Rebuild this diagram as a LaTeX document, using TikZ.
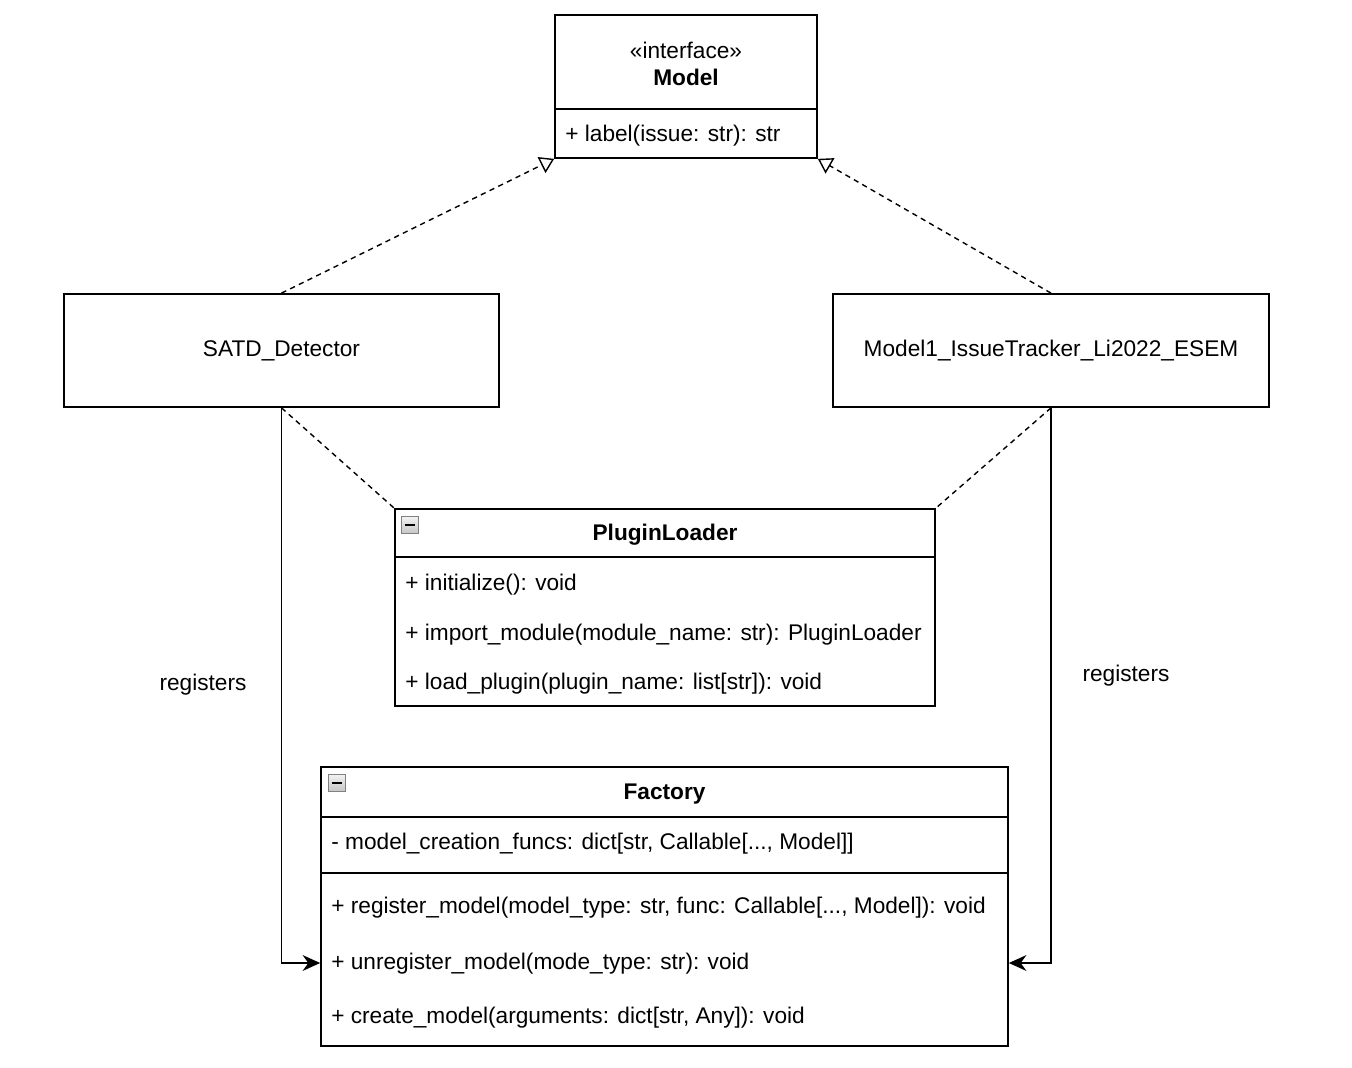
\documentclass[tikz,border=0pt]{standalone}
\usepackage{fontspec}
\setmainfont{Liberation Sans}
\usetikzlibrary{arrows.meta,positioning,calc}

\begin{document}
\begin{tikzpicture}[
        x=0.02cm, y=-0.02cm,
        font=\fontsize{12.9}{15}\selectfont,
        umlbox/.style={rectangle, draw=black, line width=1pt, fill=white, inner sep=0pt},
        member/.style={anchor=west, inner sep=0pt},
        title/.style={inner sep=0pt, font=\fontsize{12.9}{15}\selectfont\bfseries},
        minusbox/.style={rectangle, draw=gray, top color=gray!10, bottom color=gray!45, minimum size=0.34cm, inner sep=0pt},
        realize/.style={line width=0.8pt, dash pattern=on 3pt off 2.5pt, -{Triangle[open, length=8pt, width=10pt, fill=white]}},
        assoc/.style={line width=0.8pt, dash pattern=on 3pt off 2.5pt},
        arrow/.style={line width=1pt, -{Stealth[length=10pt, width=9pt]}}
    ]
        \useasboundingbox (0,0) rectangle (1352,1068);

        % Interface
        \node[umlbox, minimum width=5.24cm, minimum height=2.86cm] (model) at (686,86.5) {};
        \draw[line width=1pt] (model.west |- 0,109) -- (model.east |- 0,109);
        \node[inner sep=0pt] (stereo) at (686,50) {«interface»};
        \node[title] (modelname) at (686,77) {Model};
        \node[member] (labelop) at (565,136) {+ label(issue: str): str};

        % Implementations
        \node[umlbox, minimum width=8.7cm, minimum height=2.26cm] (satd) at (281.5,350.5) {SATD\_Detector};
        \node[umlbox, minimum width=8.72cm, minimum height=2.26cm] (model1) at (1051,350.5) {Model1\_IssueTracker\_Li2022\_ESEM};

        % PluginLoader
        \node[umlbox, minimum width=10.8cm, minimum height=3.94cm] (loader) at (665,607.5) {};
        \draw[line width=1pt] (loader.west |- 0,557) -- (loader.east |- 0,557);
        \node[minusbox] (loadermin) at (410,525) {\rule{6pt}{1.4pt}};
        \node[title] (loadername) at (665,535) {PluginLoader};
        \node[member] (init) at (405,585) {+ initialize(): void};
        \node[member] (import) at (405,635) {+ import\_module(module\_name: str): PluginLoader};
        \node[member] (load) at (405,684) {+ load\_plugin(plugin\_name: list[str]): void};

        % Factory
        \node[umlbox, minimum width=13.74cm, minimum height=5.58cm] (factory) at (664.5,906.5) {};
        \draw[line width=1pt] (factory.west |- 0,817) -- (factory.east |- 0,817);
        \draw[line width=1pt] (factory.west |- 0,873) -- (factory.east |- 0,873);
        \node[minusbox] (factorymin) at (337,783) {\rule{6pt}{1.4pt}};
        \node[title] (factoryname) at (664.5,794) {Factory};
        \node[member] (funcs) at (331,844) {- model\_creation\_funcs: dict[str, Callable[..., Model]]};
        \node[member] (reg) at (331,908) {+ register\_model(model\_type: str, func: Callable[..., Model]): void};
        \node[member] (unreg) at (331,964) {+ unregister\_model(mode\_type: str): void};
        \node[member] (create) at (331,1018) {+ create\_model(arguments: dict[str, Any]): void};
        \coordinate (hook) at (0,963);

        % Realization
        \draw[realize] (satd.north) -- (model.south west);
        \draw[realize] (model1.north) -- (model.south east);

        % Loader links
        \draw[assoc] (satd.south) -- (loader.north west);
        \draw[assoc] (model1.south) -- (loader.north east);

        % Registration
        \draw[arrow] (satd.south) |- (factory.west |- hook);
        \draw[arrow] (model1.south) |- (factory.east |- hook);
        \node (regleft) at (203,685) {registers};
        \node (regright) at (1126,676) {registers};

    \end{tikzpicture}
\end{document}
